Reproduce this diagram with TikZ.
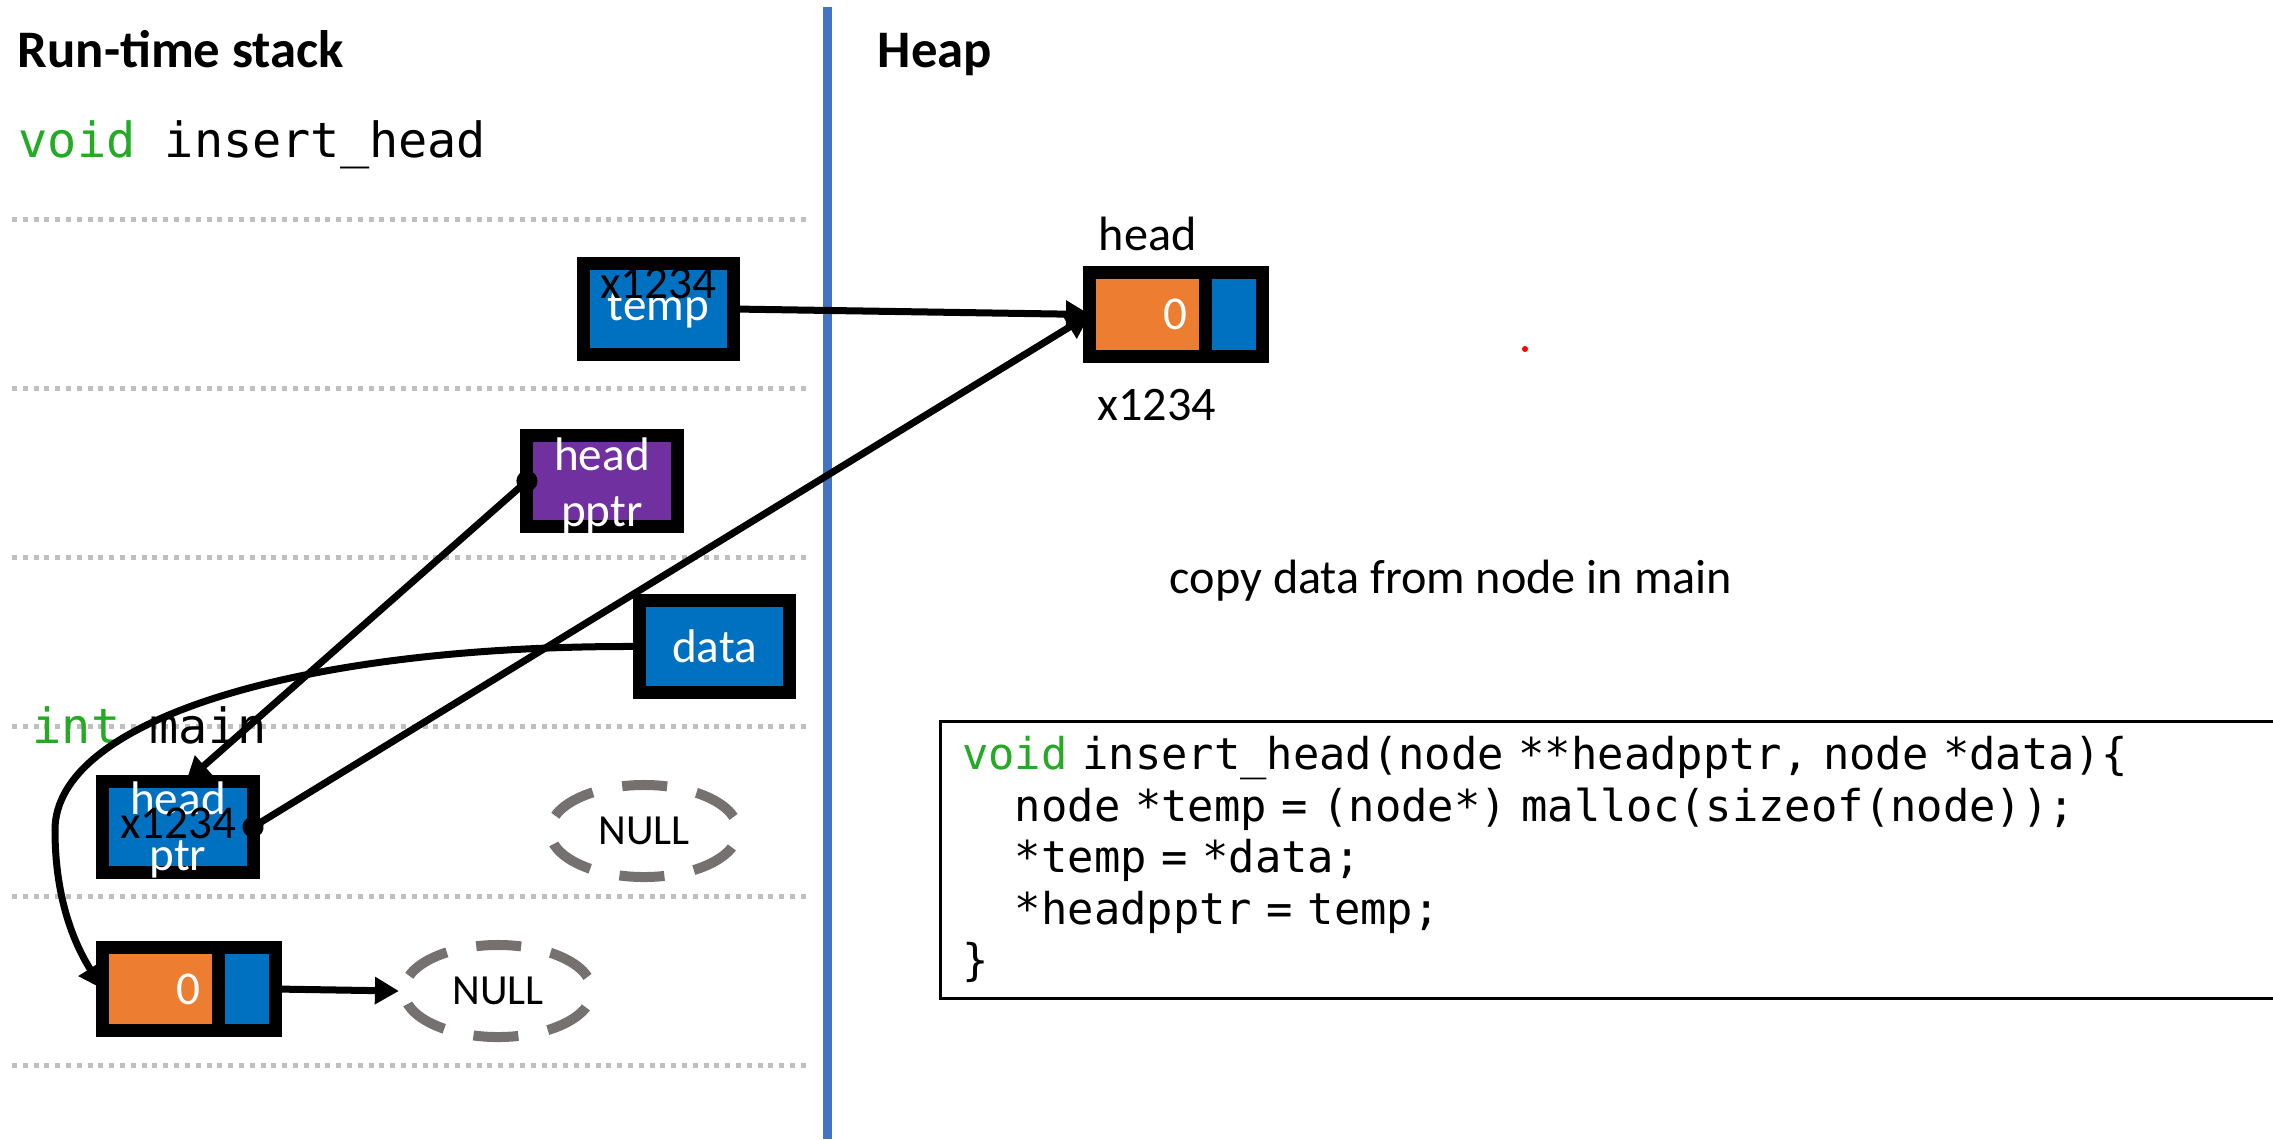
\documentclass[tikz,border=0pt]{standalone}
\usepackage{fontspec}
\setmainfont{Carlito}
\setmonofont{DejaVu Sans Mono}
\usepackage{tikz}
\usetikzlibrary{shapes,arrows.meta,positioning}
\definecolor{ptrblue}{RGB}{0, 112, 192}
\definecolor{valorange}{RGB}{237, 125, 49}
\definecolor{pptrpurple}{RGB}{112, 48, 160}
\definecolor{heapline}{RGB}{68, 114, 196}
\definecolor{sepgray}{RGB}{191, 191, 191}
\definecolor{nullgray}{RGB}{118, 113, 113}
\definecolor{kwgreen}{RGB}{36, 170, 36}
\tikzstyle{box} = [rectangle, draw=black, line width=0.13cm, fill=ptrblue, text=white, align=center, outer sep=0pt, inner sep=0pt, font=\fontsize{13.4}{16}\selectfont, minimum width=1.5cm, minimum height=0.91cm]
\tikzstyle{valbox} = [box, fill=valorange, minimum width=1.155cm, minimum height=0.83cm, text width=0.8cm, align=right]
\tikzstyle{nextbox} = [box, minimum width=0.57cm, minimum height=0.83cm]
\tikzstyle{boxtext} = [draw=none, fill=none, inner sep=0pt, text=white, align=center, font=\fontsize{13.4}{16}\selectfont]
\tikzstyle{addr} = [boxtext, text=black]
\tikzstyle{textonly} = [draw=none, fill=none, inner sep=0pt, text=black, font=\fontsize{13.7}{16}\selectfont]
\tikzstyle{heading} = [textonly, font=\bfseries\fontsize{15}{18}\selectfont]
\tikzstyle{codetext} = [textonly, font=\ttfamily\fontsize{13.8}{16}\selectfont]
\tikzstyle{nullnode} = [ellipse, draw=nullgray, line width=0.1cm, dash pattern=on 0.45cm off 0.3cm, dash phase=0.6cm, minimum width=1.88cm, minimum height=0.92cm, inner sep=0pt, font=\fontsize{12.2}{14}\selectfont]
\tikzstyle{frameline} = [draw=sepgray, line width=0.05cm, dash pattern=on 0.05cm off 0.058cm]
\tikzstyle{tedge} = [draw, line width=0.07cm, >={Triangle[length=0.24cm,width=0.26cm]}, ->]
\tikzstyle{ptr} = [tedge, {Circle[length=0.21cm]}->, shorten <=-0.105cm]

\begin{document}
\begin{tikzpicture}[x=0.01cm, y=-0.01cm]
\useasboundingbox (0,0) rectangle (2273,1139);
\clip (0,0) rectangle (2273,1139);

% stack frames =============================
\path[frameline] (12,219) -- (808,219);
\path[frameline] (12,388) -- (808,388);
\path[frameline] (12,557) -- (808,557);
\path[frameline] (12,726) -- (808,726);
\path[frameline] (12,896) -- (808,896);
\path[frameline] (12,1065) -- (808,1065);

% stack | heap
\draw[heapline, line width=0.09cm] (827,7) -- (827,1139);

% titles
\node[heading, anchor=base west] (stacktitle) at (17,67) {Run-time stack};
\node[heading, anchor=base west] (heaptitle) at (877,67) {Heap};
\node[codetext, anchor=base west] (insertframe) at (18,157) {\textcolor{kwgreen}{void} insert\_head};
\node[codetext, anchor=base west] (mainframe) at (32,743) {\textcolor{kwgreen}{int} main};

% insert_head frame
\node[box] (temp) at (658.5,309) {temp};
\node[addr] (tempval) at ([yshift=0.26cm]temp.center) {x1234};
\node[box, fill=pptrpurple] (hpptr) at (602,481) {};
\node[boxtext] (hpptrname) at ([yshift=-0.05cm]hpptr.center) {head\\pptr};
\node[box] (data) at (714.5,646.5) {data};

% main frame
\node[box] (hptr) at (178,827) {};
\node[boxtext] (hptrname) at ([yshift=-0.03cm]hptr.center) {head\\ptr};
\node[addr] (hptrval) at ([yshift=0.04cm]hptr.center) {x1234};
\node[nullnode] (null1) at (644,831) {NULL};
\node[valbox] (mval) at (160.5,989) {0};
\node[nextbox, right=0pt of mval] (mnext) {};
\node[nullnode] (null2) at (498,991) {NULL};

% heap
\node[valbox] (hval) at (1147.75,314.5) {0};
\node[nextbox, right=0pt of hval] (hnext) {};
\node[textonly, above=0.215cm of hval] (hname) {head};
\node[textonly, below=0.32cm of hval, xshift=0.09cm] (haddr) {x1234};
\fill[red] (1525,349) circle (0.03cm);

% text only
\node[textonly] (note) at (1451,581) {copy data from node in main};
\node[draw, line width=0.025cm, anchor=north west, text width=13.5cm, inner xsep=0.22cm, inner ysep=0pt, minimum height=2.77cm, align=left, font=\ttfamily\fontsize{12.45}{14.65}\selectfont] (code) at (939,720) {\textcolor{kwgreen}{void} insert\_head(node **headpptr, node *data)\{\\
\phantom{xx}node *temp = (node*) malloc(sizeof(node));\\
\phantom{xx}*temp = *data;\\
\phantom{xx}*headpptr = temp;\\
\}};

% edges
\path[tedge] (temp.east) -- (hval.west);
\path[ptr] (hptr.east) -- (hval.west);
\path[ptr] (hpptr.west) -- (hptr.80);
\path[tedge] (data.west) .. controls (300,645) and (55,720) .. (55,830) .. controls (55,900) and (75,945) .. (mval.west);
\path[tedge] (mnext.east) -- (null2.west);

\end{tikzpicture}
\end{document}
